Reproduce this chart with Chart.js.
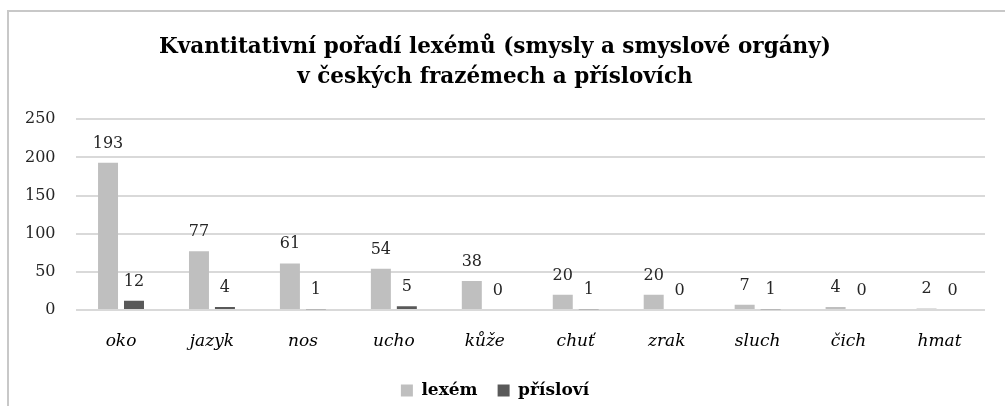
<!DOCTYPE html>
<html>
<head>
<meta charset="utf-8">
<script src="https://cdn.jsdelivr.net/npm/chart.js@4"></script>
<style>
	html, body { margin: 0; padding: 0; background: #fff; }
	#wrap { position: relative; width: 1005px; height: 406px; }
	#frame { position: absolute; left: 7px; top: 10px; right: 0; bottom: 0; border-left: 2px solid #c8c8c8; border-top: 2px solid #c8c8c8; pointer-events: none; }
</style>
</head>
<body>
<div id="wrap">
	<canvas id="senseChart" width="1005" height="406"></canvas>
	<div id="frame"></div>
</div>
<script>
const categories = ['oko', 'jazyk', 'nos', 'ucho', 'kůže', 'chuť', 'zrak', 'sluch', 'čich', 'hmat'];
const lexemValues = [193, 77, 61, 54, 38, 20, 20, 7, 4, 2];
const proverbValues = [12, 4, 1, 5, 0, 1, 0, 1, 0, 0];
const yTicks = [0, 50, 100, 150, 200, 250];
const titleLines = ['Kvantitativní pořadí lexémů (smysly a smyslové orgány)', 'v českých frazémech a příslovích'];

const serif = '"DejaVu Serif", serif';

// labels above each bar
const valueLabels = {
	id: 'valueLabels',
	afterDatasetsDraw(chart) {
		const ctx = chart.ctx;
		ctx.save();
		ctx.font = '16px ' + serif;
		ctx.fillStyle = '#262626';
		ctx.textAlign = 'center';
		ctx.textBaseline = 'alphabetic';
		chart.data.datasets.forEach(function(ds, i) {
			const meta = chart.getDatasetMeta(i);
			meta.data.forEach(function(bar, j) {
				ctx.fillText(String(ds.data[j]), bar.x, bar.y - 15);
			});
		});
		ctx.restore();
	}
};

const ctx = document.getElementById('senseChart').getContext('2d');
const chart = new Chart(ctx, {
	type: 'bar',
	data: {
		labels: categories,
		datasets: [{
			label: 'lexém',
			data: lexemValues,
			backgroundColor: '#bfbfbf',
			categoryPercentage: 0.571,
			barPercentage: 0.77
		}, {
			label: 'přísloví',
			data: proverbValues,
			backgroundColor: '#595959',
			categoryPercentage: 0.571,
			barPercentage: 0.77
		}]
	},
	plugins: [valueLabels],
	options: {
		responsive: false,
		animation: false,
		layout: { padding: { left: 5, right: 20, top: 20, bottom: -3 } },
		plugins: {
			title: {
				display: true,
				text: titleLines,
				color: '#000',
				font: { family: serif, size: 21.5, weight: 'bold', lineHeight: 1.4 },
				padding: { top: 12, bottom: 27 }
			},
			legend: {
				position: 'bottom',
				labels: {
					color: '#000',
					boxWidth: 12,
					boxHeight: 12,
					padding: 20,
					font: { family: serif, size: 17, weight: 'bold' }
				}
			},
			tooltip: { enabled: false }
		},
		scales: {
			x: {
				grid: { display: false },
				border: { display: false },
				afterFit(axis) {
					axis.height = 52;
				},
				ticks: {
					color: '#000',
					padding: 13,
					font: { family: serif, size: 17, style: 'italic' }
				}
			},
			y: {
				min: 0,
				max: 250,
				afterBuildTicks(axis) {
					axis.ticks = yTicks.map(v => ({ value: v }));
				},
				grid: { color: '#d9d9d9', lineWidth: 2, drawTicks: false },
				border: { display: false },
				ticks: {
					color: '#262626',
					padding: 20,
					font: { family: serif, size: 16 }
				}
			}
		}
	}
});
</script>
</body>
</html>
